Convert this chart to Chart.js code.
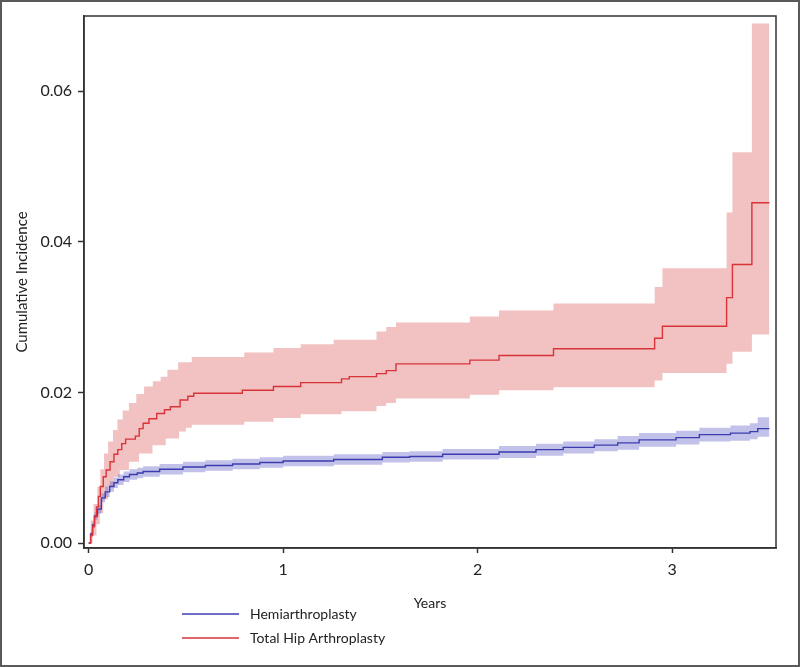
<!DOCTYPE html>
<html>
<head>
<meta charset="utf-8">
<script src="https://cdn.jsdelivr.net/npm/chart.js@4.4.1/dist/chart.umd.min.js"></script>
<style>
    body { margin: 0; background: #fff; }
    #wrap { position: relative; width: 800px; height: 667px; }
    #frame { position: absolute; left: 0; top: 0; width: 800px; height: 667px; box-sizing: border-box; border: 2px solid #5a5a5a; pointer-events: none; }
</style>
</head>
<body>
<div id="wrap">
    <canvas id="chart" width="800" height="667"></canvas>
    <div id="frame"></div>
</div>
<script>
// Total Hip Arthroplasty: step estimate
const thaTime = [0, 0.01, 0.02, 0.03, 0.04, 0.05, 0.06, 0.075, 0.09, 0.11, 0.13, 0.15, 0.17, 0.19, 0.24, 0.26, 0.28, 0.31, 0.35, 0.39, 0.42, 0.47, 0.51, 0.54, 0.79, 0.95, 1.09, 1.30, 1.34, 1.48, 1.53, 1.58, 1.96, 2.11, 2.39, 2.91, 2.95, 3.28, 3.31, 3.41, 3.50];
const thaValue = [0, 0.0010, 0.0022, 0.0035, 0.0048, 0.0062, 0.0075, 0.0088, 0.0097, 0.0108, 0.0118, 0.0124, 0.0132, 0.0138, 0.0142, 0.0152, 0.0159, 0.0165, 0.0172, 0.0177, 0.0181, 0.0190, 0.0195, 0.0199, 0.0203, 0.0208, 0.0213, 0.0218, 0.0221, 0.0225, 0.0229, 0.0238, 0.0243, 0.0249, 0.0258, 0.0272, 0.0288, 0.0326, 0.0370, 0.0452, 0.0452];

// THA confidence band
const thaUpperTime = [0, 0.01, 0.025, 0.045, 0.06, 0.079, 0.10, 0.125, 0.148, 0.175, 0.207, 0.245, 0.285, 0.33, 0.37, 0.405, 0.46, 0.53, 0.80, 0.95, 1.09, 1.26, 1.48, 1.53, 1.58, 1.96, 2.11, 2.39, 2.91, 2.95, 3.28, 3.31, 3.41, 3.50];
const thaUpper = [0, 0.0030, 0.0052, 0.0075, 0.0098, 0.0119, 0.0135, 0.0150, 0.0164, 0.0176, 0.0186, 0.0198, 0.0208, 0.0215, 0.0221, 0.0230, 0.0240, 0.0247, 0.0253, 0.0259, 0.0264, 0.0270, 0.0281, 0.0287, 0.0293, 0.0301, 0.0309, 0.0318, 0.0340, 0.0365, 0.0439, 0.0519, 0.0690, 0.0690];
const thaLowerTime = [0, 0.02, 0.04, 0.057, 0.075, 0.10, 0.13, 0.16, 0.207, 0.259, 0.328, 0.396, 0.465, 0.50, 0.53, 0.80, 0.95, 1.09, 1.30, 1.48, 1.53, 1.58, 1.96, 2.11, 2.39, 2.91, 2.95, 3.28, 3.31, 3.41, 3.50];
const thaLower = [0, 0.0010, 0.0025, 0.0040, 0.0058, 0.0075, 0.0088, 0.0097, 0.0108, 0.0119, 0.0130, 0.0139, 0.0148, 0.0153, 0.0157, 0.0161, 0.0166, 0.0171, 0.0175, 0.0182, 0.0186, 0.0192, 0.0197, 0.0203, 0.0207, 0.0216, 0.0226, 0.0238, 0.0254, 0.0277, 0.0277];

// Hemiarthroplasty: estimate and band share the same step times
const hemiTime = [0, 0.01, 0.02, 0.03, 0.045, 0.065, 0.085, 0.108, 0.13, 0.15, 0.18, 0.21, 0.25, 0.28, 0.365, 0.485, 0.60, 0.74, 0.88, 1.00, 1.26, 1.51, 1.65, 1.82, 2.11, 2.30, 2.44, 2.60, 2.72, 2.83, 3.02, 3.14, 3.30, 3.40, 3.44, 3.50];
const hemiValue = [0, 0.0012, 0.0024, 0.0036, 0.0045, 0.0060, 0.0068, 0.0075, 0.0080, 0.0084, 0.0088, 0.0091, 0.0093, 0.0095, 0.0098, 0.0101, 0.0103, 0.0105, 0.0107, 0.0109, 0.0111, 0.0114, 0.0115, 0.0118, 0.0121, 0.0124, 0.0127, 0.0130, 0.0133, 0.0137, 0.0140, 0.0144, 0.0146, 0.0148, 0.0152, 0.0152];
const hemiUpper = [0, 0.0015, 0.0028, 0.0041, 0.0051, 0.0066, 0.0075, 0.0082, 0.0087, 0.0091, 0.0095, 0.0098, 0.0100, 0.0102, 0.0105, 0.0108, 0.0110, 0.0112, 0.0114, 0.0116, 0.0118, 0.0121, 0.0122, 0.0125, 0.0129, 0.0132, 0.0135, 0.0138, 0.0142, 0.0146, 0.0149, 0.0153, 0.0156, 0.0159, 0.0167, 0.0167];
const hemiLower = [0, 0.0009, 0.0020, 0.0031, 0.0039, 0.0054, 0.0061, 0.0068, 0.0073, 0.0077, 0.0081, 0.0084, 0.0086, 0.0088, 0.0091, 0.0094, 0.0096, 0.0098, 0.0100, 0.0102, 0.0104, 0.0107, 0.0108, 0.0111, 0.0113, 0.0116, 0.0119, 0.0122, 0.0124, 0.0128, 0.0131, 0.0135, 0.0136, 0.0138, 0.0141, 0.0141];

const xTicks = [0, 1, 2, 3];
const yTicks = [0, 0.02, 0.04, 0.06];

const FONT = 'Lato, "Open Sans", sans-serif';

function pts(t, v) {
    return t.map((x, i) => ({ x: x, y: v[i] }));
}

function band(label, t, v, fill, color) {
    return {
        label: label,
        data: pts(t, v),
        stepped: 'before',
        borderWidth: 0,
        pointRadius: 0,
        backgroundColor: color,
        fill: fill
    };
}

// box around the plot area
const framePlugin = {
    id: 'frame',
    afterDraw(chart) {
        const a = chart.chartArea;
        const ctx = chart.ctx;
        ctx.save();
        ctx.strokeStyle = '#333';
        ctx.lineWidth = 1.5;
        ctx.strokeRect(a.left, a.top, a.right - a.left, a.bottom - a.top);
        ctx.restore();
    }
};

// legend stacked under the axis, left of centre
const legendPlugin = {
    id: 'stackLegend',
    afterDraw(chart) {
        const ctx = chart.ctx;
        const items = [chart.data.datasets[1], chart.data.datasets[0]];
        ctx.save();
        ctx.font = '14px ' + FONT;
        ctx.textBaseline = 'middle';
        ctx.fillStyle = '#222';
        items.forEach((ds, i) => {
            const y = 614 + i * 24;
            ctx.strokeStyle = ds.borderColor;
            ctx.lineWidth = 1.5;
            ctx.beginPath();
            ctx.moveTo(182, y);
            ctx.lineTo(239, y);
            ctx.stroke();
            ctx.fillText(ds.label, 250, y);
        });
        ctx.restore();
    }
};

new Chart(document.getElementById('chart').getContext('2d'), {
    type: 'line',
    data: {
        datasets: [
            {
                label: 'Total Hip Arthroplasty',
                data: pts(thaTime, thaValue),
                stepped: 'before',
                borderColor: '#d8343a',
                borderWidth: 1.4,
                pointRadius: 0,
                fill: false
            },
            {
                label: 'Hemiarthroplasty',
                data: pts(hemiTime, hemiValue),
                stepped: 'before',
                borderColor: '#3c3cb0',
                borderWidth: 1.4,
                pointRadius: 0,
                fill: false
            },
            band('hemi upper', hemiTime, hemiUpper, '+1', 'rgba(100, 100, 200, 0.4)'),
            band('hemi lower', hemiTime, hemiLower, false, 'rgba(0,0,0,0)'),
            band('tha upper', thaUpperTime, thaUpper, '+1', '#f2c1c1'),
            band('tha lower', thaLowerTime, thaLower, false, 'rgba(0,0,0,0)')
        ]
    },
    options: {
        responsive: false,
        animation: false,
        layout: {
            padding: { top: 16, right: 24, left: 0, bottom: 0 }
        },
        plugins: {
            legend: { display: false },
            tooltip: { enabled: false }
        },
        scales: {
            x: {
                type: 'linear',
                min: -0.024,
                max: 3.534,
                afterFit: (s) => { s.height = 119; },
                afterBuildTicks: (s) => { s.ticks = xTicks.map(v => ({ value: v })); },
                grid: { drawOnChartArea: false, tickLength: 5, tickColor: '#333', tickWidth: 1.5 },
                border: { color: '#333', width: 1.5 },
                ticks: {
                    padding: 7,
                    color: '#222',
                    font: { family: FONT, size: 16 },
                    callback: (v) => String(v)
                },
                title: {
                    display: true,
                    text: 'Years',
                    color: '#222',
                    font: { family: FONT, size: 14 },
                    padding: { top: 0, bottom: 55.6 }
                }
            },
            y: {
                min: -0.00066,
                max: 0.070,
                afterFit: (s) => { s.width = 84; },
                afterBuildTicks: (s) => { s.ticks = yTicks.map(v => ({ value: v })); },
                grid: { drawOnChartArea: false, tickLength: 6, tickColor: '#333', tickWidth: 1.5 },
                border: { color: '#333', width: 1.5 },
                ticks: {
                    padding: 6,
                    color: '#222',
                    font: { family: FONT, size: 16 },
                    callback: (v) => v.toFixed(2)
                },
                title: {
                    display: true,
                    text: 'Cumulative Incidence',
                    color: '#222',
                    font: { family: FONT, size: 15 },
                    padding: { top: 13, bottom: 0 }
                }
            }
        }
    },
    plugins: [framePlugin, legendPlugin]
});
</script>
</body>
</html>
